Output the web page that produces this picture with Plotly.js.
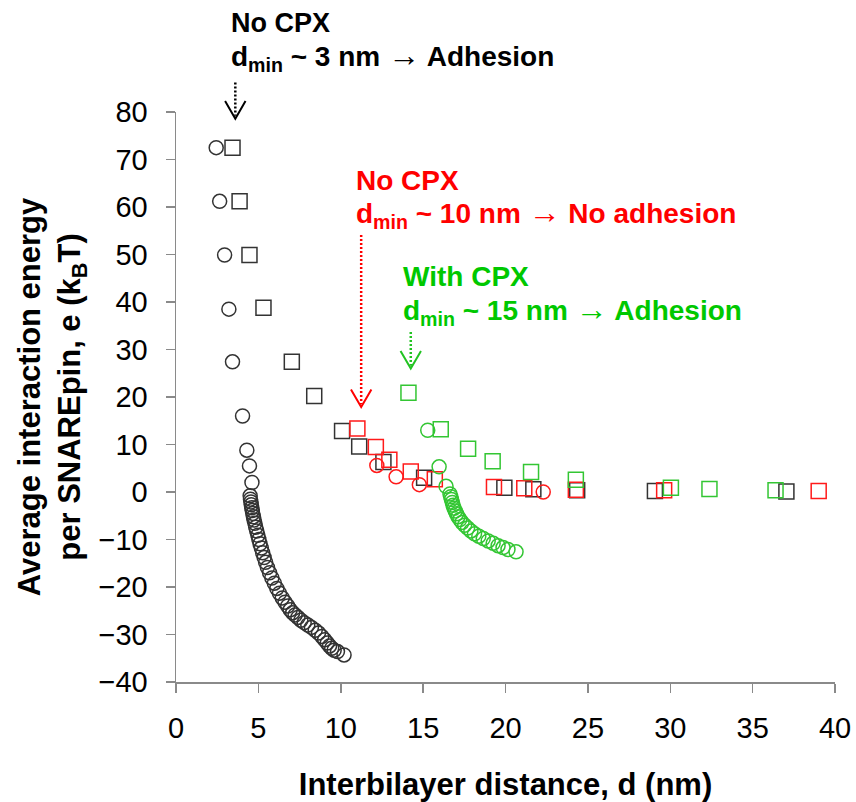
<!DOCTYPE html>
<html>
<head>
<meta charset="utf-8">
<script src="https://cdn.plot.ly/plotly-3.0.1.min.js"></script>
<style>html,body{margin:0;padding:0;background:#fff;}#chart{width:856px;height:802px;}</style>
</head>
<body>
<div id="chart"></div>
<script>
// ---- data ----
const blackCircleX = [2.44,2.65,2.95,3.21,3.43,4.04,4.30,4.46,4.61,
  4.50,4.52,4.55,4.57,4.60,4.63,4.66,4.70,4.74,4.79,4.84,4.90,4.97,5.03,5.10,5.18,5.26,5.35,5.44,5.55,
  5.68,5.82,5.97,6.12,6.28,6.45,6.62,6.78,6.93,7.08,7.23,7.40,7.58,7.78,8.00,8.22,8.45,8.65,8.85,9.02,
  9.18,9.32,9.45,9.60,9.80,10.20];
const blackCircleY = [72.5,61.2,49.9,38.5,27.4,16.0,8.8,5.5,2.0,
  -0.8,-1.5,-2.1,-2.7,-3.3,-3.9,-4.5,-5.2,-5.9,-6.6,-7.4,-8.2,-9.1,-10.0,-10.9,-11.8,-12.8,-13.8,-14.8,-15.9,
  -17.0,-18.1,-19.2,-20.3,-21.3,-22.3,-23.2,-24.0,-24.8,-25.4,-25.9,-26.4,-27.0,-27.5,-28.0,-28.5,-29.1,-29.7,-30.4,-31.1,
  -31.8,-32.4,-32.9,-33.3,-33.6,-34.3];

const blackSquareX = [3.43,3.86,4.46,5.31,7.03,8.39,10.08,11.12,12.59,15.06,19.93,21.69,24.35,29.07,37.05];
const blackSquareY = [72.5,61.2,49.9,38.8,27.4,20.2,12.85,9.6,6.3,3.0,0.9,0.6,0.35,0.2,0.1];

const redSquareX = [11.01,12.13,12.95,14.25,15.71,19.30,21.14,24.27,29.63,39.01];
const redSquareY = [13.35,9.5,6.8,4.3,2.7,1.05,0.8,0.5,0.35,0.2];
const redCircleX = [12.19,13.36,14.77,22.29];
const redCircleY = [5.6,3.2,1.55,0.0];

const greenSquareX = [14.11,16.07,17.73,19.22,21.55,24.27,30.04,32.38,36.39];
const greenSquareY = [20.9,13.2,9.1,6.5,4.2,2.6,0.9,0.65,0.35];
const greenCircleX = [15.28,15.97,16.39,16.63,16.68,16.72,16.77,16.82,16.88,16.95,17.03,17.12,17.23,17.36,17.52,
  17.70,17.90,18.12,18.38,18.65,18.95,19.25,19.55,19.85,20.15,20.64];
const greenCircleY = [13.0,5.3,1.2,-0.4,-1.0,-1.6,-2.2,-2.8,-3.4,-4.0,-4.6,-5.2,-5.8,-6.4,-7.0,
  -7.6,-8.2,-8.8,-9.3,-9.8,-10.3,-10.8,-11.3,-11.7,-12.1,-12.6];

const xTickVals = [0,5,10,15,20,25,30,35,40];
const yTickVals = [-40,-30,-20,-10,0,10,20,30,40,50,60,70,80];

// dotted arrows (data coordinates: x, y where the shaft starts, y of the tip) and colours
const arrowX     = [3.6, 11.24, 14.25];
const arrowFrom  = [86.2, 54.1, 33.7];
const arrowTip   = [78.6, 17.9, 26.0];
const arrowColor = ['#000000', '#ff0000', '#22c322'];

// ---- styles ----
const BLACK = '#333333', RED = '#ff1a1a', GREEN = '#33c633';
const FONT = 'Liberation Sans, Arial, sans-serif';
const XR = [0, 40], YR = [-40, 80];

function mk(x, y, sym, col, size) {
  return {x: x, y: y, type: 'scatter', mode: 'markers', hoverinfo: 'skip',
    marker: {symbol: sym, size: size, color: col, line: {color: col, width: 1.5}}};
}
const traces = [
  mk(blackCircleX, blackCircleY, 'circle-open', BLACK, 14),
  mk(blackSquareX, blackSquareY, 'square-open', BLACK, 15),
  mk(redCircleX, redCircleY, 'circle-open', RED, 14),
  mk(redSquareX, redSquareY, 'square-open', RED, 15),
  mk(greenCircleX, greenCircleY, 'circle-open', GREEN, 14),
  mk(greenSquareX, greenSquareY, 'square-open', GREEN, 15)
];

const px = x => (x - XR[0]) / (XR[1] - XR[0]);
const py = y => (y - YR[0]) / (YR[1] - YR[0]);
const shapes = [];
arrowX.forEach((ax, i) => {
  const c = arrowColor[i];
  shapes.push({type: 'line', xref: 'paper', yref: 'paper', x0: px(ax), x1: px(ax),
    y0: py(arrowFrom[i]), y1: py(arrowTip[i] + 0.6), line: {color: c, width: 2.5, dash: '2px,2px'}});
  const hw = 0.62, hh = 3.7;
  shapes.push({type: 'path', xref: 'paper', yref: 'paper',
    path: 'M' + px(ax - hw) + ',' + py(arrowTip[i] + hh) + ' L' + px(ax) + ',' + py(arrowTip[i]) +
          ' L' + px(ax + hw) + ',' + py(arrowTip[i] + hh),
    line: {color: c, width: 2}});
});

const L = 176, T = 112, PW = 659, PH = 570;
const ppx = p => (p - L) / PW;
const ppy = p => (T + PH - p) / PH;
function note(text, xpx, ypx, col, size) {
  return {text: text, xref: 'paper', yref: 'paper', x: ppx(xpx), y: ppy(ypx),
    xanchor: 'left', yanchor: 'middle', showarrow: false, borderpad: 0,
    font: {family: FONT, size: size, color: col, weight: 'bold'}};
}
const arr = '<span style="font-weight:normal;font-size:32px">→</span>';
const annotations = [
  note('<b>No CPX</b>', 230, 23, '#000', 27),
  note('<b>d<sub>min</sub> ~ 3 nm ' + arr + ' Adhesion</b>', 230, 57, '#000', 28),
  note('<b>No CPX</b>', 355, 180, '#ff0000', 28),
  note('<b>d<sub>min</sub> ~ 10 nm ' + arr + ' No adhesion</b>', 355, 213, '#ff0000', 28),
  note('<b>With CPX</b>', 402, 276, '#00c800', 28),
  note('<b>d<sub>min</sub> ~ 15 nm ' + arr + ' Adhesion</b>', 402, 310, '#00c800', 28)
];

const axisCommon = {showgrid: false, zeroline: false, showline: true, linecolor: '#8a8a8a', linewidth: 1.5,
  ticks: 'outside', tickcolor: '#8a8a8a', tickwidth: 1.5, ticklen: 9,
  tickfont: {family: FONT, size: 29, color: '#000'}, fixedrange: true};

const layout = {
  width: 856, height: 802,
  margin: {l: L, r: 856 - L - PW, t: T, b: 802 - T - PH, pad: 0},
  paper_bgcolor: '#fff', plot_bgcolor: '#fff', showlegend: false,
  xaxis: Object.assign({}, axisCommon, {range: XR, tickmode: 'array', tickvals: xTickVals,
    ticklabelstandoff: 11,
    title: {text: '<b>Interbilayer distance, d (nm)</b>', standoff: 37,
      font: {family: FONT, size: 31, color: '#000'}}}),
  yaxis: Object.assign({}, axisCommon, {range: YR, tickmode: 'array', tickvals: yTickVals,
    ticklabelstandoff: 12,
    title: {text: '<b>Average interaction energy<br>per SNAREpin, e (k<sub>B</sub>T)</b>', standoff: 8,
      font: {family: FONT, size: 31, color: '#000'}}}),
  shapes: shapes,
  annotations: annotations
};

Plotly.newPlot('chart', traces, layout, {staticPlot: true, displayModeBar: false});
</script>
</body>
</html>
